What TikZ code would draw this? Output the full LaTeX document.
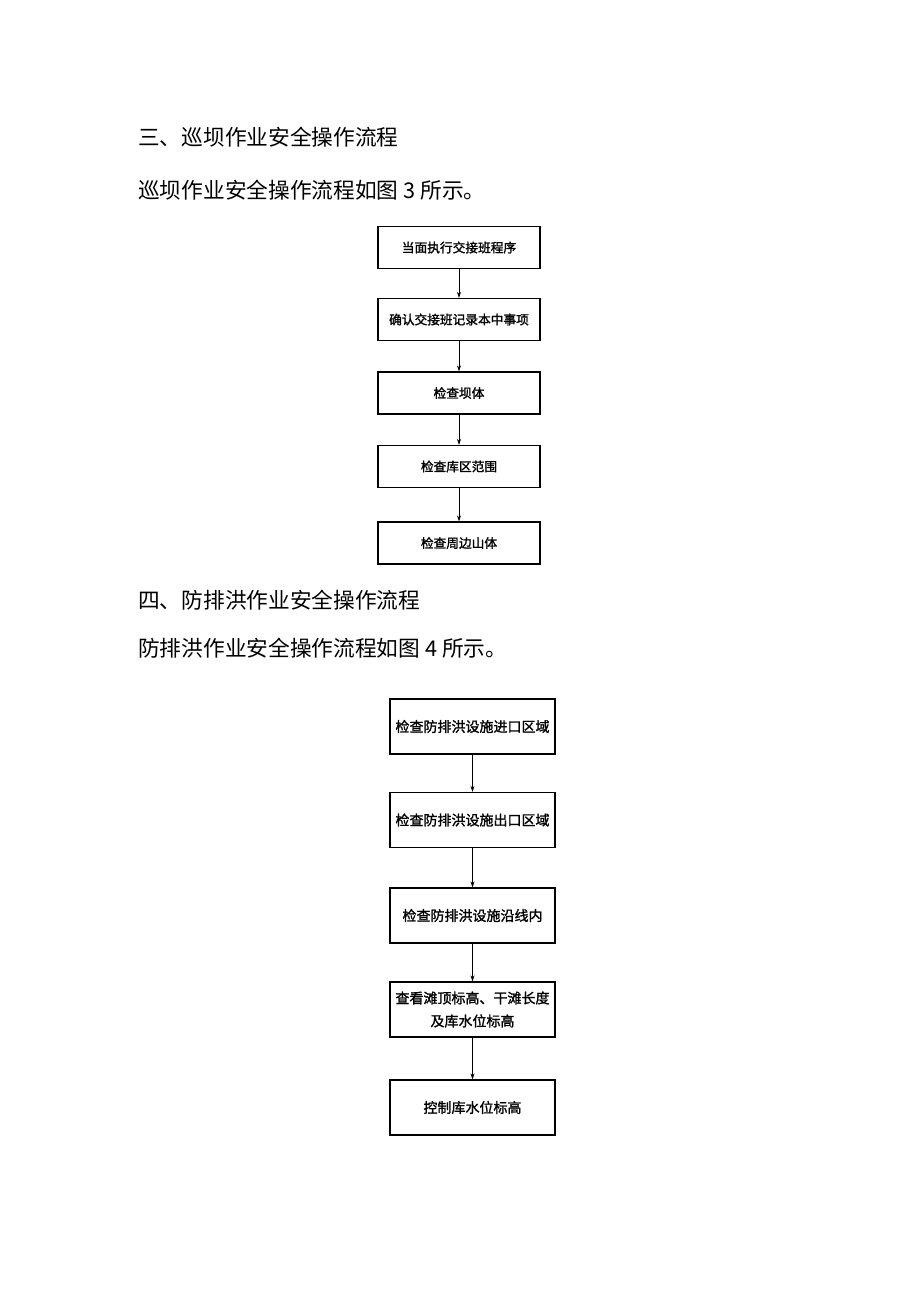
\documentclass[tikz,border=0pt]{standalone}
\usepackage{fontspec}
\setmainfont{Liberation Sans}
\newfontfamily\cjk{Noto Sans CJK SC}
\newfontfamily\cjkb{Noto Sans CJK SC}[FakeBold=1.5]
\usetikzlibrary{arrows.meta}
\begin{document}
\begin{tikzpicture}[x=1pt,y=-1pt,
  boxa/.style={draw,line width=1.3pt,minimum width=162pt,minimum height=42pt,inner sep=0pt,font=\cjkb\fontsize{12.7}{15}\selectfont,align=center},
  boxb/.style={draw,line width=1.3pt,minimum width=165pt,minimum height=55pt,inner sep=0pt,font=\cjkb\fontsize{14}{23}\selectfont,align=center},
  para/.style={anchor=west,inner sep=0pt,font=\cjk\fontsize{21.7}{25}\selectfont},
  arr/.style={-{Stealth[length=6pt,width=4pt]},line width=0.6pt}]
\useasboundingbox (0,0) rectangle (920,1301);
\node[para] (h3) at (138,137) {三、巡坝作业安全操作流程};
\node[para] (t3) at (138,190) {巡坝作业安全操作流程如图 3 所示。};
\node[boxa] (a1) at (459,247.5) {当面执行交接班程序};
\node[boxa] (a2) at (459,319.5) {确认交接班记录本中事项};
\node[boxa] (a3) at (459,393) {检查坝体};
\node[boxa] (a4) at (459,466.5) {检查库区范围};
\node[boxa] (a5) at (459,543) {检查周边山体};
\draw[arr] (a1) -- (a2);
\draw[arr] (a2) -- (a3);
\draw[arr] (a3) -- (a4);
\draw[arr] (a4) -- (a5);
\node[para] (h4) at (138,600) {四、防排洪作业安全操作流程};
\node[para] (t4) at (138,648) {防排洪作业安全操作流程如图 4 所示。};
\node[boxb] (b1) at (472.5,726.5) {检查防排洪设施进口区域};
\node[boxb] (b2) at (472.5,820) {检查防排洪设施出口区域};
\node[boxb] (b3) at (472.5,915.5) {检查防排洪设施沿线内};
\node[boxb] (b4) at (472.5,1009.5) {查看滩顶标高、干滩长度\\及库水位标高};
\node[boxb] (b5) at (472.5,1107.5) {控制库水位标高};
\draw[arr] (b1) -- (b2);
\draw[arr] (b2) -- (b3);
\draw[arr] (b3) -- (b4);
\draw[arr] (b4) -- (b5);
\end{tikzpicture}
\end{document}
